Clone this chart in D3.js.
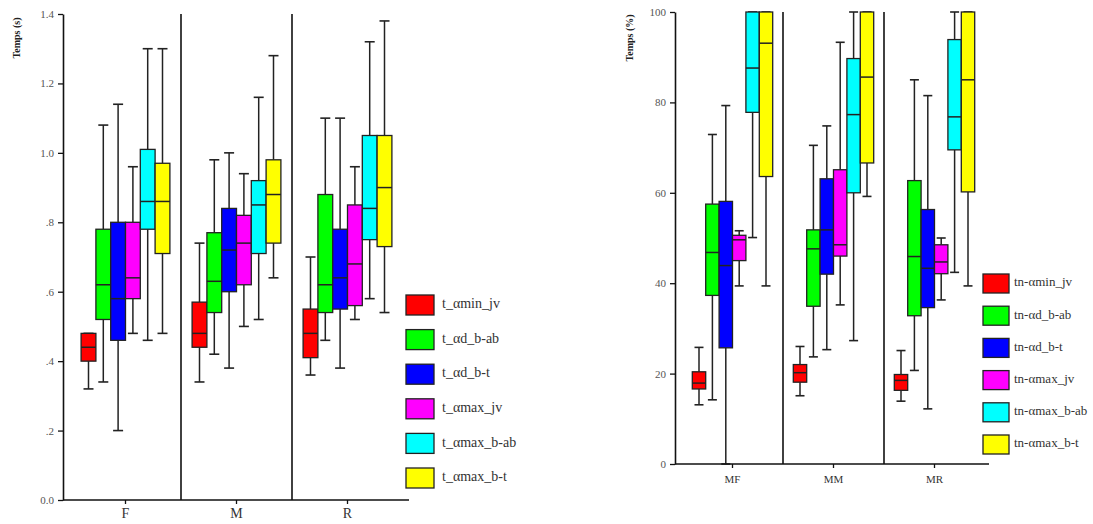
<!DOCTYPE html>
<html>
<head>
<meta charset="utf-8">
<script src="https://cdn.jsdelivr.net/npm/d3@7"></script>
<style>
  html, body { margin: 0; padding: 0; background: #fff; }
  svg { display: block; }
  text { font-family: "Liberation Serif", "DejaVu Serif", serif; }
</style>
</head>
<body>
<svg id="chart" width="1093" height="524"></svg>
<script>
// ---------- DATA ----------
const seriesColors = ["#ff0000", "#00ff00", "#0000ff", "#ff00ff", "#00ffff", "#ffff00"];

// Left chart: Temps (s)
const leftCategories = ["F", "M", "R"];
const leftSeries = ["t_αmin_jv", "t_αd_b-ab", "t_αd_b-t", "t_αmax_jv", "t_αmax_b-ab", "t_αmax_b-t"];
const leftTicks = [0, 0.2, 0.4, 0.6, 0.8, 1.0, 1.2, 1.4];
const leftTickLabels = ["0.0", ".2", ".4", ".6", ".8", "1.0", "1.2", "1.4"];
// per category, per series
const leftLow = [
  [0.32, 0.34, 0.20, 0.48, 0.46, 0.48],
  [0.34, 0.42, 0.38, 0.50, 0.52, 0.64],
  [0.36, 0.46, 0.38, 0.52, 0.58, 0.54]
];
const leftQ1 = [
  [0.40, 0.52, 0.46, 0.58, 0.78, 0.71],
  [0.44, 0.54, 0.60, 0.62, 0.71, 0.74],
  [0.41, 0.54, 0.55, 0.56, 0.75, 0.73]
];
const leftMedian = [
  [0.44, 0.62, 0.58, 0.64, 0.86, 0.86],
  [0.48, 0.63, 0.72, 0.74, 0.85, 0.88],
  [0.48, 0.62, 0.64, 0.68, 0.84, 0.90]
];
const leftQ3 = [
  [0.48, 0.78, 0.80, 0.80, 1.01, 0.97],
  [0.57, 0.77, 0.84, 0.82, 0.92, 0.98],
  [0.55, 0.88, 0.78, 0.85, 1.05, 1.05]
];
const leftHigh = [
  [0.48, 1.08, 1.14, 0.96, 1.30, 1.30],
  [0.74, 0.98, 1.00, 0.94, 1.16, 1.28],
  [0.70, 1.10, 1.10, 0.96, 1.32, 1.38]
];

// Right chart: Temps (%)
const rightCategories = ["MF", "MM", "MR"];
const rightSeries = ["tn-αmin_jv", "tn-αd_b-ab", "tn-αd_b-t", "tn-αmax_jv", "tn-αmax_b-ab", "tn-αmax_b-t"];
const rightTicks = [0, 20, 40, 60, 80, 100];
const rightTickLabels = ["0", "20", "40", "60", "80", "100"];
const rightLow = [
  [13.1, 14.2, 0, 39.4, 50.1, 39.4],
  [15.1, 23.7, 25.3, 35.2, 27.3, 59.2],
  [13.9, 20.7, 12.2, 36.3, 42.4, 39.4]
];
const rightQ1 = [
  [16.6, 37.3, 25.7, 45.0, 77.8, 63.6],
  [18.1, 34.9, 42.0, 46.0, 60.0, 66.6],
  [16.3, 32.8, 34.6, 42.1, 69.5, 60.2]
];
const rightMedian = [
  [17.9, 46.8, 43.9, 49.6, 87.6, 93.1],
  [20.2, 47.6, 51.8, 48.5, 77.3, 85.6],
  [18.5, 45.9, 43.3, 44.7, 76.8, 85.0]
];
const rightQ3 = [
  [20.4, 57.5, 58.1, 50.6, 100, 100],
  [22.0, 51.8, 63.1, 65.1, 89.7, 100],
  [19.8, 62.7, 56.3, 48.5, 93.9, 100]
];
const rightHigh = [
  [25.8, 72.9, 79.3, 51.6, 100, 100],
  [26.0, 70.5, 74.8, 93.3, 100, 100],
  [25.1, 85.0, 81.5, 50.0, 100, 100]
];

// ---------- DRAW ----------
const svg = d3.select("#chart");

function drawPanel(cfg) {
  const g = svg.append("g");
  const y = d3.scaleLinear().domain(cfg.yDomain).range([cfg.yBottom, cfg.yTop]);
  const x = d3.scaleBand().domain(cfg.categories).range([cfg.bandLeft, cfg.bandRight]).paddingInner(0).paddingOuter(0);
  const sub = d3.scaleBand().domain(d3.range(cfg.series.length)).range([0, cfg.boxW * cfg.series.length]);

  // Y axis
  const yAxis = d3.axisLeft(y).tickValues(cfg.ticks).tickFormat((d, i) => cfg.tickLabels[i]).tickSize(cfg.tickLen).tickSizeOuter(0).tickPadding(4);
  const ya = g.append("g").attr("transform", `translate(${cfg.axisX},0)`).call(yAxis);
  ya.select(".domain").attr("stroke", "#111").attr("stroke-width", 1.6);
  ya.selectAll(".tick line").attr("stroke", "#111").attr("stroke-width", 1.3);
  ya.selectAll(".tick text").attr("fill", "#555").attr("font-size", cfg.tickFont).attr("font-family", "Liberation Serif, serif");

  // separators
  cfg.categories.forEach((c, i) => {
    if (i === 0) return;
    g.append("line")
      .attr("x1", x(c)).attr("x2", x(c))
      .attr("y1", cfg.yTop).attr("y2", cfg.yBottom)
      .attr("stroke", "#111").attr("stroke-width", 1.6);
  });

  // boxes
  cfg.categories.forEach((c, ci) => {
    const start = x(c) + x.bandwidth() / 2 - (cfg.boxW * cfg.series.length) / 2;
    cfg.series.forEach((s, si) => {
      const bx = start + sub(si);
      const cx = bx + cfg.boxW / 2;
      const lo = cfg.low[ci][si], q1 = cfg.q1[ci][si], md = cfg.median[ci][si], q3 = cfg.q3[ci][si], hi = cfg.high[ci][si];
      const wg = g.append("g");
      // whiskers
      wg.append("line").attr("x1", cx).attr("x2", cx).attr("y1", y(q3)).attr("y2", y(hi))
        .attr("stroke", "#222").attr("stroke-width", 1.5);
      wg.append("line").attr("x1", cx).attr("x2", cx).attr("y1", y(q1)).attr("y2", y(lo))
        .attr("stroke", "#222").attr("stroke-width", 1.5);
      [hi, lo].forEach(v => {
        wg.append("line").attr("x1", cx - cfg.capW / 2).attr("x2", cx + cfg.capW / 2)
          .attr("y1", y(v)).attr("y2", y(v)).attr("stroke", "#222").attr("stroke-width", 1.6);
      });
      // box
      wg.append("rect").attr("x", bx).attr("y", y(q3)).attr("width", cfg.boxW).attr("height", y(q1) - y(q3))
        .attr("fill", seriesColors[si]).attr("stroke", "#222").attr("stroke-width", 1.3);
      wg.append("line").attr("x1", bx).attr("x2", bx + cfg.boxW).attr("y1", y(md)).attr("y2", y(md))
        .attr("stroke", "#222").attr("stroke-width", 1.5);
    });
  });

  // X axis
  g.append("line").attr("x1", cfg.axisX).attr("x2", cfg.axisXEnd).attr("y1", cfg.yBottom).attr("y2", cfg.yBottom)
    .attr("stroke", "#111").attr("stroke-width", 1.6);
  const xAxis = d3.axisBottom(x).tickSize(4).tickSizeOuter(0).tickPadding(cfg.xPad);
  const xa = g.append("g").attr("transform", `translate(0,${cfg.yBottom})`).call(xAxis);
  xa.select(".domain").remove();
  xa.selectAll(".tick line").attr("stroke", "#111").attr("stroke-width", 1.3);
  xa.selectAll(".tick text").attr("fill", "#333").attr("font-size", cfg.xFont).attr("font-family", "Liberation Serif, serif");

  // Y title
  g.append("text").attr("transform", `translate(${cfg.titleX},${cfg.titleY}) rotate(-90)`)
    .attr("text-anchor", "middle").attr("dominant-baseline", "middle")
    .attr("font-size", cfg.titleFont).attr("font-weight", "bold").attr("fill", "#222")
    .text(cfg.title);

  // Legend
  const lg = g.append("g");
  cfg.series.forEach((s, si) => {
    const ly = cfg.legY + si * cfg.legStep;
    lg.append("rect").attr("x", cfg.legX).attr("y", ly).attr("width", cfg.legW).attr("height", cfg.legH)
      .attr("fill", seriesColors[si]).attr("stroke", "#222").attr("stroke-width", 1.3);
    lg.append("text").attr("x", cfg.legX + cfg.legW + cfg.legGap).attr("y", ly + cfg.legH / 2)
      .attr("dominant-baseline", "middle").attr("font-size", cfg.legFont).attr("fill", "#333")
      .text(s);
  });
}

drawPanel({
  categories: leftCategories, series: leftSeries,
  low: leftLow, q1: leftQ1, median: leftMedian, q3: leftQ3, high: leftHigh,
  yDomain: [0, 1.4], yTop: 14, yBottom: 500,
  ticks: leftTicks, tickLabels: leftTickLabels, tickLen: 5, tickFont: 11,
  axisX: 63, axisXEnd: 409, bandLeft: 70, bandRight: 403,
  boxW: 14.8, capW: 10, xPad: 4, xFont: 14,
  title: "Temps (s)", titleX: 18, titleY: 38, titleFont: 10,
  legX: 406, legY: 295, legW: 28, legH: 20, legStep: 34.6, legGap: 8, legFont: 14
});

drawPanel({
  categories: rightCategories, series: rightSeries,
  low: rightLow, q1: rightQ1, median: rightMedian, q3: rightQ3, high: rightHigh,
  yDomain: [0, 100], yTop: 12, yBottom: 464,
  ticks: rightTicks, tickLabels: rightTickLabels, tickLen: 5, tickFont: 11,
  axisX: 675, axisXEnd: 989, bandLeft: 682, bandRight: 985,
  boxW: 13.4, capW: 9, xPad: 7, xFont: 11,
  title: "Temps (%)", titleX: 631, titleY: 38, titleFont: 10,
  legX: 983, legY: 274, legW: 26, legH: 19, legStep: 32.2, legGap: 5, legFont: 13
});
</script>
</body>
</html>
